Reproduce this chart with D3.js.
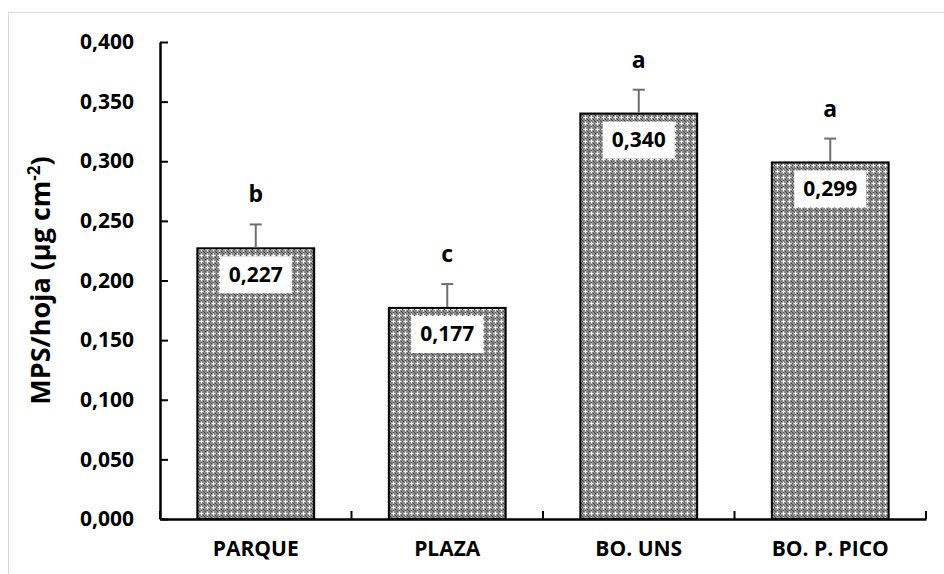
<!DOCTYPE html>
<html>
<head>
<meta charset="utf-8">
<script src="https://cdn.jsdelivr.net/npm/d3@7"></script>
<style>
  body { margin: 0; background: #fff; }
  svg { display: block; font-family: "Open Sans", Lato, sans-serif; font-weight: bold; }
</style>
</head>
<body>
<div class="chart"></div>
<script>
// chart data
var categories = ["PARQUE", "PLAZA", "BO. UNS", "BO. P. PICO"];
var values = [0.227, 0.177, 0.340, 0.299];
var errors = [0.020, 0.020, 0.020, 0.020];
var letters = ["b", "c", "a", "a"];
var yTicks = [0, 0.05, 0.10, 0.15, 0.20, 0.25, 0.30, 0.35, 0.40];

(function () {
    "use strict";

    var w = 944, h = 574;
    var mLeft = 160, mRight = 926, mTop = 42, mBottom = 519;

    var fmt = function (d) { return d3.format(".3f")(d).replace(".", ","); };

    var svg = d3.select(".chart").append("svg")
        .attr("width", w)
        .attr("height", h);

    // hatch pattern for the bars
    var defs = svg.append("defs");
    var pat = defs.append("pattern")
        .attr("id", "hatch")
        .attr("patternUnits", "userSpaceOnUse")
        .attr("width", 6).attr("height", 6);
    pat.append("rect").attr("width", 6).attr("height", 6).attr("fill", "#8a8a8a");
    // white plus in the middle, dark dots in between
    [[3, 2], [2, 3], [3, 3], [4, 3], [3, 4]].forEach(function (p) {
        pat.append("rect").attr("x", p[0]).attr("y", p[1]).attr("width", 1).attr("height", 1).attr("fill", "#f4f4f4");
    });
    [[0, 0], [1, 1], [5, 5], [0, 3], [3, 0]].forEach(function (p) {
        pat.append("rect").attr("x", p[0]).attr("y", p[1]).attr("width", 1).attr("height", 1).attr("fill", "#4a4a4a");
    });
    [[1, 3], [5, 3], [3, 1], [3, 5]].forEach(function (p) {
        pat.append("rect").attr("x", p[0]).attr("y", p[1]).attr("width", 1).attr("height", 1).attr("fill", "#c8c8c8");
    });

    // outer frame
    svg.append("rect")
        .attr("x", 8.5).attr("y", 12.5)
        .attr("width", w).attr("height", h)
        .attr("fill", "none")
        .attr("stroke", "#d9d9d9")
        .attr("stroke-width", 1);

    var x = d3.scaleBand()
        .domain(categories)
        .range([mLeft, mRight])
        .paddingInner(0.39)
        .paddingOuter(0.195);

    var y = d3.scaleLinear()
        .domain([0, 0.4])
        .range([mBottom, mTop]);

    // bars
    svg.selectAll("rect.bar")
        .data(values)
        .enter()
        .append("rect")
        .attr("class", "bar")
        .attr("x", function (d, i) { return x(categories[i]); })
        .attr("y", function (d) { return y(d); })
        .attr("width", x.bandwidth())
        .attr("height", function (d) { return y(0) - y(d); })
        .attr("fill", "url(#hatch)")
        .attr("stroke", "#000")
        .attr("stroke-width", 2);

    // error bars (upper only)
    var cx = function (i) { return x(categories[i]) + x.bandwidth() / 2; };
    svg.selectAll("line.err")
        .data(values)
        .enter()
        .append("line")
        .attr("class", "err")
        .attr("x1", function (d, i) { return cx(i); })
        .attr("x2", function (d, i) { return cx(i); })
        .attr("y1", function (d) { return y(d) - 1; })
        .attr("y2", function (d, i) { return y(d + errors[i]); })
        .attr("stroke", "#6e6e6e")
        .attr("stroke-width", 2);
    svg.selectAll("line.cap")
        .data(values)
        .enter()
        .append("line")
        .attr("class", "cap")
        .attr("x1", function (d, i) { return cx(i) - 6; })
        .attr("x2", function (d, i) { return cx(i) + 6; })
        .attr("y1", function (d, i) { return y(d + errors[i]); })
        .attr("y2", function (d, i) { return y(d + errors[i]); })
        .attr("stroke", "#6e6e6e")
        .attr("stroke-width", 2);

    // value labels in white boxes
    var lab = svg.selectAll("g.val")
        .data(values)
        .enter()
        .append("g")
        .attr("class", "val")
        .attr("transform", function (d, i) { return "translate(" + cx(i) + "," + (y(d) + 26) + ")"; });
    lab.append("rect")
        .attr("x", -36).attr("y", -18)
        .attr("width", 72).attr("height", 37)
        .attr("fill", "#fff");
    lab.append("text")
        .attr("text-anchor", "middle")
        .attr("dy", "0.36em")
        .attr("font-size", 21)
        .text(function (d) { return fmt(d); });

    // significance letters
    svg.selectAll("text.letter")
        .data(values)
        .enter()
        .append("text")
        .attr("class", "letter")
        .attr("x", function (d, i) { return cx(i); })
        .attr("y", function (d, i) { return y(d + errors[i]) - 22; })
        .attr("text-anchor", "middle")
        .attr("font-size", 23)
        .text(function (d, i) { return letters[i]; });

    // y axis
    var yAxis = svg.append("g")
        .attr("transform", "translate(" + mLeft + ",0)")
        .call(d3.axisLeft(y).tickValues(yTicks).tickSizeInner(-8).tickSizeOuter(0).tickPadding(26).tickFormat(fmt));
    yAxis.attr("font-family", null).attr("font-size", null);
    yAxis.select(".domain").attr("stroke", "#000").attr("stroke-width", 2.5);
    yAxis.selectAll(".tick line").attr("stroke", "#000").attr("stroke-width", 2);
    yAxis.selectAll("text").attr("font-size", 21).attr("fill", "#000");

    // x axis
    var xAxis = svg.append("g")
        .attr("transform", "translate(0," + mBottom + ")")
        .call(d3.axisBottom(x).tickSize(0).tickPadding(22));
    xAxis.attr("font-family", null).attr("font-size", null);
    xAxis.select(".domain").attr("stroke", "#000").attr("stroke-width", 2.5);
    xAxis.selectAll("text").attr("font-size", 21).attr("fill", "#000");

    // category boundary ticks pointing up
    var step = x.step();
    var bounds = categories.map(function (c) { return x(c) - x.paddingInner() * step / 2; });
    bounds.push(mRight);
    svg.selectAll("line.xt")
        .data(bounds)
        .enter()
        .append("line")
        .attr("class", "xt")
        .attr("x1", function (d) { return d; })
        .attr("x2", function (d) { return d; })
        .attr("y1", mBottom)
        .attr("y2", mBottom - 8)
        .attr("stroke", "#000")
        .attr("stroke-width", 2);

    // y axis title
    svg.append("text")
        .attr("transform", "translate(50," + ((mTop + mBottom) / 2) + ") rotate(-90)")
        .attr("text-anchor", "middle")
        .attr("font-size", 27)
        .html("MPS/hoja (µg cm<tspan dy='-10' font-size='17'>-2</tspan><tspan dy='10'>)</tspan>");
})();
</script>
</body>
</html>
